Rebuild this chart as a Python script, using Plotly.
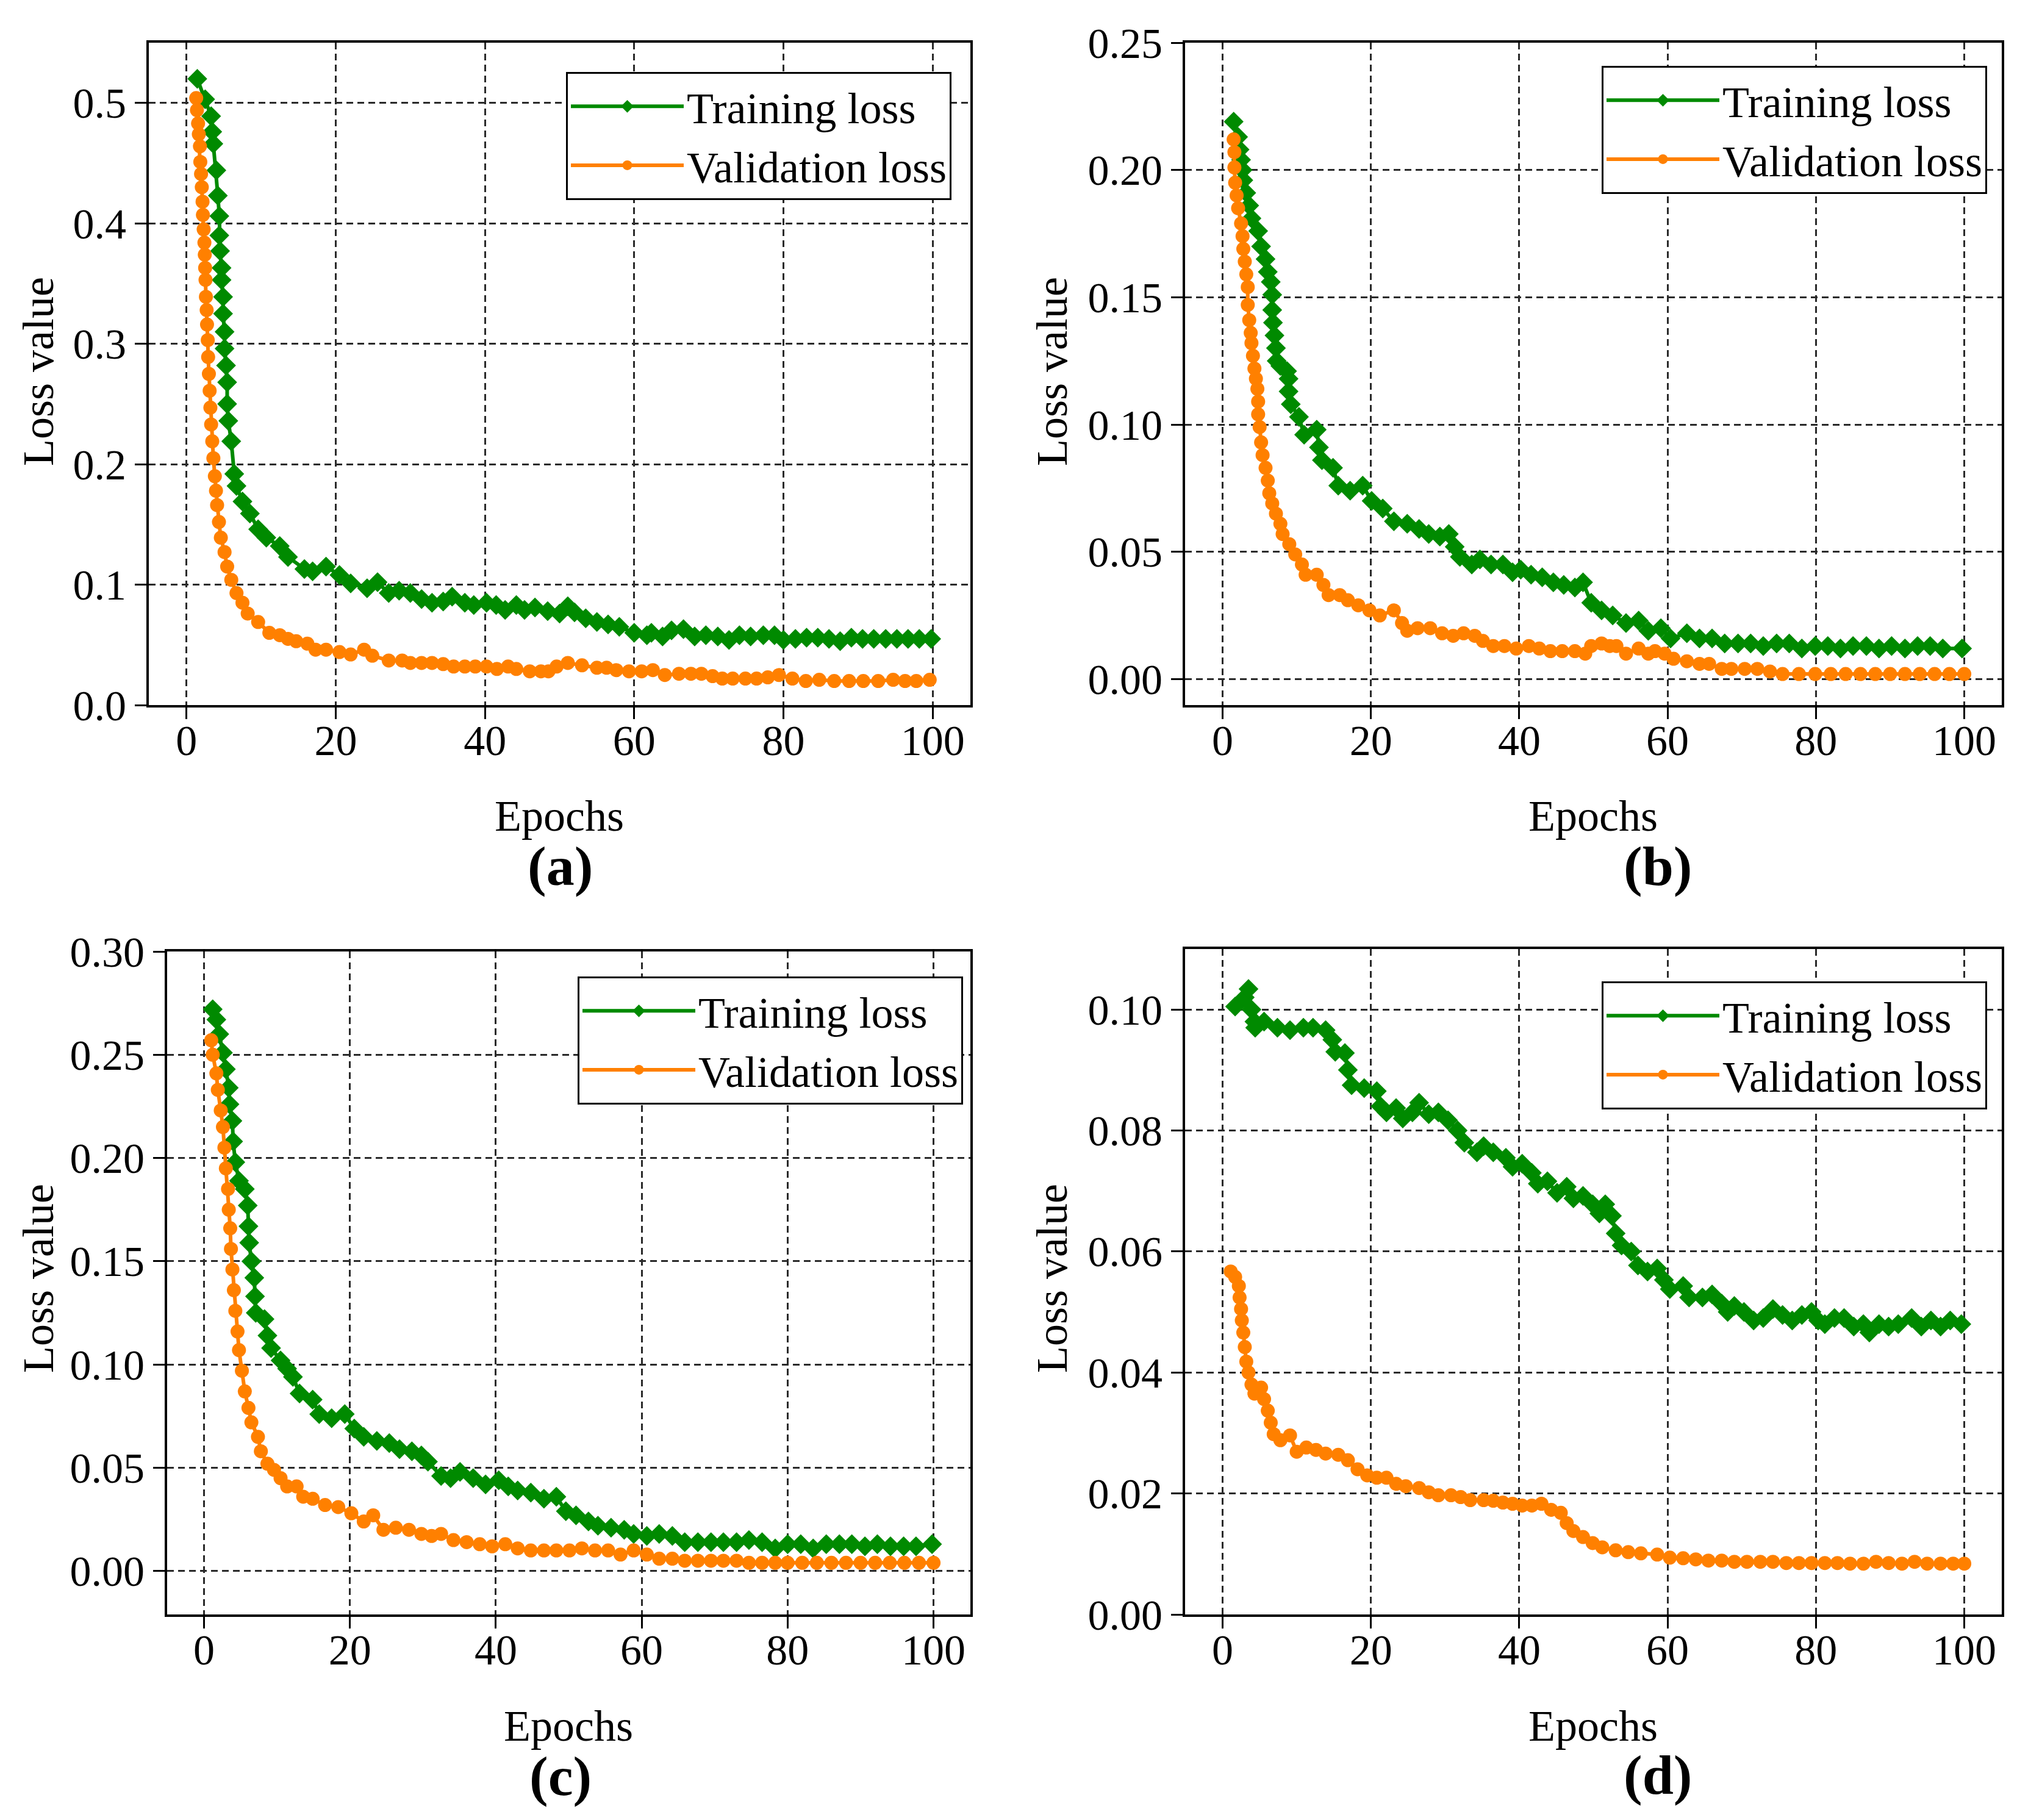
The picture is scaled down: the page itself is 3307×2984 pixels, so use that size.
import plotly.graph_objects as go

# ---------------- data (epoch, loss) ----------------
a_train = [(1.45,0.520),(2.5,0.503),(3.3,0.489),(3.45,0.476),(3.6,0.466),(4.0,0.444),(4.2,0.423),(4.4,0.406),(4.4,0.390),(4.5,0.377),
           (4.7,0.363),(4.7,0.353),(4.9,0.339),(4.9,0.325),(5.1,0.310),(5.1,0.296),(5.3,0.282),(5.45,0.268),(5.45,0.250),(5.6,0.236),
           (6.0,0.219),(6.4,0.192),(6.7,0.182),(7.5,0.169),(8.5,0.159),(9.6,0.146),(10.7,0.139),(12.5,0.132),(13.6,0.123),(15.8,0.113),
           (16.9,0.111),(18.7,0.115),(20.5,0.108),(22.0,0.101),(24.2,0.097),(25.6,0.102),(27.1,0.093),(28.5,0.095),(30.0,0.093),(31.5,0.088),
           (32.9,0.085),(34.4,0.086),(35.6,0.090),(37.3,0.085),(38.5,0.083),(40.2,0.085),(41.5,0.083),(42.7,0.079),(44.2,0.083),(45.3,0.079),
           (46.7,0.081),(48.4,0.078),(50.0,0.076),(51.1,0.082),(52.0,0.077),(53.5,0.072),(55.0,0.069),(56.5,0.067),(58.0,0.065),(60.0,0.060),
           (61.7,0.058),(62.3,0.060),(63.8,0.057),(65.0,0.062),(66.6,0.063),(68.1,0.057),(69.6,0.058),(71.2,0.057),(72.7,0.054),(74.1,0.058),
           (75.6,0.057),(77.3,0.058),(78.8,0.058),(80.0,0.054),(81.6,0.055),(83.1,0.056),(84.6,0.056),(86.1,0.055),(87.6,0.053),(89.1,0.056),
           (90.6,0.055),(92.1,0.055),(93.7,0.055),(95.2,0.055),(96.7,0.055),(98.2,0.055),(99.8,0.055)]
a_val = [(1.3,0.504),(1.4,0.494),(1.55,0.483),(1.65,0.474),(1.8,0.464),(1.85,0.451),(1.95,0.441),(2.05,0.430),(2.15,0.418),(2.2,0.407),
         (2.3,0.395),(2.4,0.384),(2.45,0.374),(2.5,0.363),(2.55,0.353),(2.6,0.339),(2.7,0.328),(2.75,0.316),(2.85,0.303),(2.9,0.289),
         (3.0,0.275),(3.1,0.261),(3.2,0.247),(3.3,0.233),(3.45,0.219),(3.6,0.205),(3.8,0.190),(3.95,0.178),(4.1,0.166),(4.35,0.152),
         (4.6,0.139),(5.1,0.127),(5.45,0.115),(6.0,0.104),(6.7,0.093),(7.5,0.085),(8.2,0.076),(9.6,0.069),(11.1,0.060),(12.5,0.058),
         (13.6,0.055),(14.7,0.053),(16.2,0.051),(17.3,0.046),(18.7,0.046),(20.5,0.044),(22.0,0.042),(23.8,0.046),(24.9,0.041),(27.1,0.037),
         (28.9,0.037),(30.0,0.035),(31.5,0.035),(32.9,0.035),(34.4,0.034),(35.8,0.032),(37.3,0.032),(38.7,0.032),(40.2,0.032),(41.6,0.030),
         (43.1,0.032),(44.2,0.030),(46.0,0.028),(47.5,0.028),(48.5,0.028),(49.6,0.032),(51.1,0.035),(53.0,0.033),(55.0,0.031),(56.3,0.031),
         (57.6,0.029),(59.3,0.028),(61.0,0.028),(62.5,0.029),(64.1,0.025),(66.0,0.026),(67.6,0.026),(69.0,0.026),(70.5,0.024),(71.8,0.022),
         (73.2,0.022),(74.9,0.022),(76.4,0.022),(77.9,0.023),(79.4,0.025),(81.2,0.022),(83.0,0.020),(84.8,0.021),(86.8,0.020),(88.8,0.020),
         (90.7,0.020),(92.7,0.020),(94.7,0.021),(96.3,0.020),(97.8,0.020),(99.6,0.021)]

b_train = [(1.5,0.219),(2.1,0.213),(2.3,0.208),(2.5,0.204),(2.7,0.200),(2.8,0.196),(3.2,0.191),(3.6,0.186),(3.9,0.181),(4.8,0.176),
           (5.2,0.170),(5.8,0.165),(6.1,0.160),(6.5,0.156),(6.7,0.151),(6.7,0.145),(6.8,0.140),(7.0,0.135),(7.2,0.130),(7.3,0.125),
           (7.8,0.123),(8.7,0.121),(8.9,0.118),(8.9,0.113),(9.2,0.108),(10.3,0.103),(11.0,0.096),(12.7,0.098),(13.0,0.091),(13.4,0.086),
           (14.9,0.083),(15.6,0.076),(17.2,0.074),(18.9,0.076),(20.1,0.070),(21.6,0.067),(23.1,0.062),(24.9,0.061),(26.5,0.059),(27.8,0.057),
           (29.3,0.056),(30.5,0.057),(31.3,0.052),(32.0,0.048),(33.6,0.045),(34.7,0.047),(36.2,0.045),(37.8,0.045),(39.1,0.042),(40.2,0.043),
           (41.6,0.041),(43.1,0.040),(44.6,0.038),(46.0,0.037),(47.5,0.036),(48.6,0.038),(49.7,0.030),(51.1,0.027),(52.6,0.025),(54.4,0.022),
           (56.1,0.023),(57.4,0.019),(59.1,0.020),(60.4,0.016),(62.6,0.018),(64.3,0.016),(66.0,0.016),(67.7,0.014),(69.5,0.014),(71.2,0.014),
           (72.9,0.013),(74.7,0.014),(76.4,0.014),(78.1,0.012),(79.9,0.013),(81.6,0.013),(83.3,0.012),(85.0,0.013),(86.8,0.013),(88.5,0.012),
           (90.2,0.013),(92.0,0.012),(93.7,0.013),(95.4,0.013),(97.1,0.012),(99.7,0.012)]
b_val = [(1.5,0.212),(1.6,0.207),(1.6,0.201),(1.7,0.195),(1.9,0.190),(2.1,0.185),(2.5,0.179),(2.7,0.174),(2.8,0.169),(3.0,0.164),
         (3.2,0.159),(3.4,0.154),(3.4,0.147),(3.6,0.141),(3.8,0.136),(3.9,0.132),(4.1,0.127),(4.3,0.122),(4.5,0.118),(4.7,0.114),
         (4.8,0.109),(4.8,0.104),(5.0,0.099),(5.2,0.093),(5.4,0.088),(5.8,0.083),(6.1,0.078),(6.3,0.073),(6.7,0.069),(7.2,0.065),
         (7.8,0.061),(8.1,0.057),(9.0,0.053),(9.8,0.049),(10.7,0.045),(11.2,0.041),(12.7,0.041),(13.6,0.037),(14.3,0.033),(15.8,0.033),
         (16.9,0.031),(18.3,0.029),(19.8,0.027),(21.2,0.025),(23.1,0.027),(24.2,0.022),(24.9,0.019),(26.3,0.020),(28.0,0.020),(29.6,0.018),
         (31.1,0.017),(32.5,0.018),(34.0,0.017),(35.1,0.015),(36.5,0.013),(38.0,0.013),(39.6,0.012),(41.3,0.013),(42.7,0.012),(44.2,0.011),
         (45.8,0.011),(47.5,0.011),(48.9,0.010),(49.7,0.013),(51.1,0.014),(52.2,0.013),(53.1,0.013),(54.4,0.010),(56.1,0.012),(57.4,0.010),
         (58.3,0.011),(59.6,0.010),(60.8,0.008),(62.6,0.007),(64.3,0.006),(65.6,0.006),(67.3,0.004),(68.6,0.004),(70.4,0.004),(72.1,0.004),
         (73.8,0.003),(75.5,0.002),(77.7,0.002),(79.9,0.002),(82.0,0.002),(84.0,0.002),(86.0,0.002),(88.0,0.002),(90.0,0.002),(92.0,0.002),
         (94.0,0.002),(96.0,0.002),(98.0,0.002),(100.0,0.002)]

c_train = [(1.2,0.272),(1.7,0.267),(2.1,0.260),(2.6,0.251),(3.0,0.243),(3.4,0.234),(3.5,0.226),(3.9,0.218),(4.0,0.208),(4.3,0.198),
           (4.8,0.189),(5.6,0.185),(6.0,0.177),(6.1,0.167),(6.2,0.159),(6.5,0.150),(6.9,0.142),(7.0,0.133),(7.1,0.125),(8.3,0.122),
           (8.7,0.114),(9.2,0.108),(10.5,0.102),(11.4,0.098),(12.2,0.094),(13.1,0.086),(14.9,0.083),(15.8,0.076),(17.5,0.074),(19.3,0.076),
           (20.6,0.069),(21.9,0.065),(23.7,0.063),(25.4,0.062),(26.8,0.059),(28.5,0.058),(29.8,0.056),(30.7,0.053),(32.5,0.046),(33.8,0.045),
           (35.1,0.048),(36.9,0.045),(38.6,0.042),(40.4,0.044),(41.7,0.041),(43.0,0.039),(44.8,0.038),(46.6,0.035),(48.3,0.036),(49.6,0.029),
           (51.0,0.027),(52.7,0.024),(54.0,0.022),(55.8,0.021),(57.6,0.020),(58.9,0.018),(60.7,0.017),(62.4,0.018),(64.2,0.017),(65.9,0.014),
           (67.7,0.014),(69.5,0.014),(71.2,0.014),(73.0,0.014),(74.7,0.015),(76.5,0.014),(78.3,0.011),(80.0,0.013),(81.8,0.013),(83.5,0.011),
           (85.3,0.013),(87.1,0.013),(88.8,0.013),(90.6,0.012),(92.3,0.013),(94.1,0.012),(95.9,0.012),(97.6,0.012),(99.8,0.013)]
c_val = [(1.0,0.257),(1.2,0.250),(1.7,0.241),(1.9,0.233),(2.3,0.223),(2.6,0.215),(2.8,0.205),(3.0,0.195),(3.3,0.185),(3.4,0.175),
         (3.6,0.166),(3.7,0.156),(3.9,0.146),(4.1,0.136),(4.3,0.126),(4.6,0.116),(4.8,0.107),(5.2,0.097),(5.6,0.087),(6.1,0.079),
         (6.5,0.072),(7.4,0.065),(7.8,0.058),(8.7,0.052),(9.6,0.049),(10.5,0.045),(11.4,0.041),(12.7,0.041),(13.6,0.036),(14.9,0.035),
         (16.6,0.032),(18.4,0.031),(20.2,0.028),(21.9,0.024),(23.2,0.027),(24.6,0.020),(26.3,0.021),(28.1,0.020),(29.8,0.018),(31.2,0.017),
         (32.5,0.018),(34.2,0.015),(36.0,0.014),(37.8,0.013),(39.5,0.012),(41.3,0.013),(43.0,0.011),(44.8,0.010),(46.6,0.010),(48.3,0.010),
         (50.1,0.010),(51.8,0.011),(53.6,0.010),(55.4,0.010),(57.1,0.008),(58.9,0.010),(60.7,0.008),(62.4,0.006),(64.2,0.006),(65.9,0.005),
         (67.7,0.005),(69.5,0.005),(71.2,0.005),(73.0,0.005),(74.7,0.004),(76.5,0.004),(78.3,0.004),(80.0,0.004),(82.0,0.004),(84.0,0.004),
         (86.0,0.004),(88.0,0.004),(90.0,0.004),(92.0,0.004),(94.0,0.004),(96.0,0.004),(98.0,0.004),(100.0,0.004)]

d_train = [(1.7,0.1005),(3.0,0.1020),(3.5,0.1034),(3.9,0.1000),(4.3,0.0980),(4.4,0.0970),(5.6,0.0980),(7.4,0.0970),(9.1,0.0966),(10.9,0.0970),
           (12.2,0.0970),(13.9,0.0966),(14.8,0.0950),(15.2,0.0930),(16.5,0.0928),(16.9,0.0900),(17.4,0.0875),(19.1,0.0870),(20.8,0.0865),(21.3,0.0840),
           (22.1,0.0830),(23.4,0.0837),(24.3,0.0820),(25.6,0.0830),(26.5,0.0846),(27.8,0.0827),(29.1,0.0830),(30.4,0.0817),(31.7,0.0800),(32.6,0.0780),
           (34.3,0.0764),(35.2,0.0774),(36.5,0.0764),(38.2,0.0755),(39.1,0.0740),(40.4,0.0745),(41.7,0.0730),(42.5,0.0712),(43.8,0.0716),(45.1,0.0697),
           (46.4,0.0707),(47.3,0.0688),(48.6,0.0692),(49.9,0.0678),(50.8,0.0663),(51.6,0.0678),(52.5,0.0659),(53.0,0.0630),(53.8,0.0610),(55.1,0.0600),
           (56.0,0.0577),(57.3,0.0567),(58.6,0.0572),(59.5,0.0553),(60.3,0.0538),(62.1,0.0543),(62.9,0.0524),(64.7,0.0524),(66.0,0.0529),(67.3,0.0514),
           (68.1,0.0500),(69.0,0.0510),(70.3,0.0500),(71.6,0.0486),(72.9,0.0490),(74.2,0.0505),(75.5,0.0495),(76.8,0.0486),(78.1,0.0495),(79.4,0.0500),
           (80.3,0.0486),(81.2,0.0480),(82.5,0.0490),(83.8,0.0490),(85.1,0.0476),(86.4,0.0480),(87.2,0.0466),(88.5,0.0480),(89.8,0.0476),(91.1,0.0480),
           (92.9,0.0490),(94.2,0.0476),(95.5,0.0486),(96.8,0.0476),(98.1,0.0486),(99.6,0.0480)]
d_val = [(1.1,0.0567),(1.7,0.0558),(2.2,0.0543),(2.3,0.0524),(2.5,0.0505),(2.6,0.0486),(2.8,0.0466),(3.0,0.0442),(3.2,0.0418),(3.5,0.0400),
         (3.9,0.0380),(4.3,0.0365),(5.2,0.0375),(5.6,0.0356),(6.1,0.0337),(6.5,0.0317),(6.9,0.0298),(7.8,0.0288),(9.1,0.0296),(10.0,0.0269),
         (11.3,0.0276),(12.6,0.0272),(13.9,0.0266),(15.6,0.0264),(16.9,0.0255),(18.2,0.0240),(19.5,0.0230),(20.8,0.0226),(22.1,0.0226),(23.4,0.0216),
         (24.7,0.0212),(26.5,0.0209),(27.8,0.0202),(29.1,0.0197),(30.8,0.0197),(32.1,0.0194),(33.4,0.0189),(35.2,0.0189),(36.5,0.0188),(37.8,0.0185),
         (39.1,0.0183),(40.4,0.0180),(41.7,0.0180),(43.0,0.0183),(44.3,0.0173),(45.6,0.0168),(46.4,0.0151),(47.3,0.0138),(48.6,0.0128),(49.9,0.0118),
         (51.2,0.0111),(53.0,0.0106),(54.7,0.0103),(56.4,0.0101),(58.6,0.0099),(60.3,0.0094),(62.1,0.0093),(63.8,0.0091),(65.5,0.0089),(67.3,0.0089),
         (69.0,0.0087),(70.7,0.0087),(72.5,0.0087),(74.2,0.0087),(76.0,0.0085),(77.7,0.0085),(79.4,0.0085),(81.2,0.0085),(82.9,0.0085),(84.6,0.0084),
         (86.4,0.0084),(88.1,0.0087),(89.8,0.0085),(91.6,0.0084),(93.3,0.0087),(95.0,0.0084),(96.8,0.0084),(98.5,0.0084),(100.0,0.0084)]

panel_labels = ["(a)", "(b)", "(c)", "(d)"]
series_names = ["Training loss", "Validation loss"]
x_ticks = [0, 20, 40, 60, 80, 100]
y_ticks = [[0.0, 0.1, 0.2, 0.3, 0.4, 0.5],
           [0.00, 0.05, 0.10, 0.15, 0.20, 0.25],
           [0.00, 0.05, 0.10, 0.15, 0.20, 0.25, 0.30],
           [0.00, 0.02, 0.04, 0.06, 0.08, 0.10]]
y_ranges = [[0.0, 0.55], [-0.0102, 0.25], [-0.021, 0.30], [0.0, 0.11]]
y_formats = [".1f", ".2f", ".2f", ".2f"]
x_range = [-5.05, 105.05]

panels = [(a_train, a_val), (b_train, b_val), (c_train, c_val), (d_train, d_val)]

# ---------------- layout geometry (pixels) ----------------
W, H = 3307, 2984
plot_boxes = [(236, 1583, 62, 1148), (1935, 3274, 62, 1148),
              (266, 1583, 1552, 2639), (1935, 3274, 1548, 2639)]
legend_pos = [(1552, 110), (3250, 100), (1571, 1593), (3250, 1601)]
xtitle_pos = [(909, 1330), (2604, 1330), (924, 2822), (2604, 2822)]
ytitle_pos = [(55, 601), (1717, 601), (55, 2088), (1717, 2088)]
label_pos = [(911, 1412), (2710, 1412), (911, 2904), (2710, 2902)]

GREEN = "#008a00"
ORANGE = "#ff8000"
FONT = "Liberation Serif, Times New Roman, serif"

def px(x):
    return x / W

def py(y):
    return 1 - y / H

fig = go.Figure()
layout = dict(width=W, height=H, margin=dict(l=0, r=0, t=0, b=0, autoexpand=False),
              template="none",
              paper_bgcolor="white", plot_bgcolor="white",
              font=dict(family=FONT, size=70, color="black"),
              showlegend=True)
annotations = []

for i, (tr, va) in enumerate(panels):
    k = "" if i == 0 else str(i + 1)
    lg = "legend" if i == 0 else "legend" + str(i + 1)
    fig.add_trace(go.Scatter(
        x=[p[0] for p in tr], y=[p[1] for p in tr], mode="lines+markers",
        name=series_names[0], xaxis="x" + k, yaxis="y" + k, legend=lg,
        line=dict(color=GREEN, width=6),
        marker=dict(symbol="diamond", size=25, color=GREEN, line=dict(width=0))))
    fig.add_trace(go.Scatter(
        x=[p[0] for p in va], y=[p[1] for p in va], mode="lines+markers",
        name=series_names[1], xaxis="x" + k, yaxis="y" + k, legend=lg,
        line=dict(color=ORANGE, width=6),
        marker=dict(symbol="circle", size=23, color=ORANGE, line=dict(width=0))))

    l, r, t, b = plot_boxes[i]
    common = dict(showline=True, linecolor="black", linewidth=4, mirror=True,
                  ticks="outside", ticklen=19, tickwidth=3, tickcolor="black",
                  showgrid=True, gridcolor="#2a2a2a", gridwidth=2.5,
                  griddash="11px,7px", zeroline=False, automargin=False,
                  tickfont=dict(family=FONT, size=70, color="black"))
    layout["xaxis" + k] = dict(domain=[px(l), px(r)], range=x_range,
                               tickvals=x_ticks, anchor="y" + k,
                               ticklabelstandoff=-25, **common)
    layout["yaxis" + k] = dict(domain=[py(b), py(t)], range=y_ranges[i],
                               tickvals=y_ticks[i], tickformat=y_formats[i],
                               anchor="x" + k, **common)
    lx, ly = legend_pos[i]
    layout[lg] = dict(x=px(lx), y=py(ly), xanchor="right", yanchor="top",
                      xref="paper", yref="paper",
                      bgcolor="white", bordercolor="black", borderwidth=3,
                      font=dict(family=FONT, size=72, color="black"),
                      itemwidth=185, tracegroupgap=0)
    ex, ey = xtitle_pos[i]
    annotations.append(dict(text="Epochs", x=px(ex), y=py(ey), xref="paper", yref="paper",
                            showarrow=False, xanchor="center", yanchor="middle",
                            font=dict(family=FONT, size=72, color="black")))
    tx, ty = ytitle_pos[i]
    annotations.append(dict(text="Loss value", x=px(tx), y=py(ty), xref="paper", yref="paper",
                            showarrow=False, xanchor="center", yanchor="middle", textangle=-90,
                            font=dict(family=FONT, size=72, color="black")))
    qx, qy = label_pos[i]
    annotations.append(dict(text="<b>" + panel_labels[i] + "</b>", x=px(qx), y=py(qy),
                            xref="paper", yref="paper", showarrow=False,
                            xanchor="center", yanchor="middle",
                            font=dict(family=FONT, size=92, color="black")))

layout["annotations"] = annotations
fig.update_layout(**layout)
fig.write_html("out.html")
